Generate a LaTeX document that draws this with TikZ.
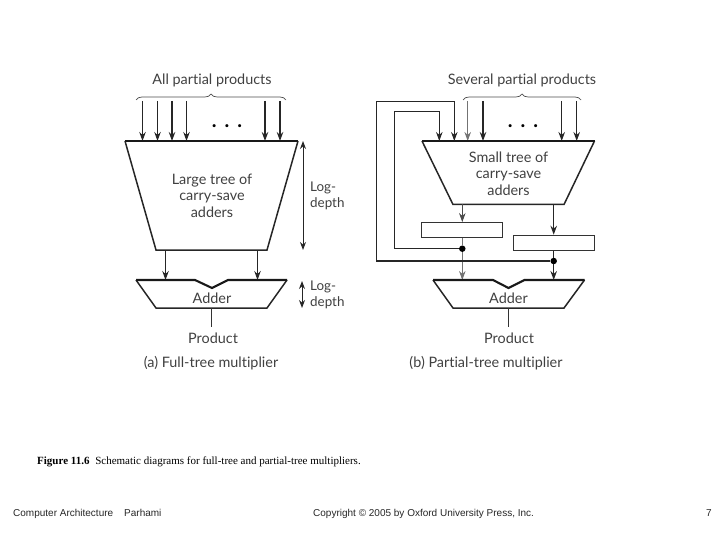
\documentclass[tikz,border=0pt]{standalone}
\usepackage{fontspec}
\setmainfont{Lato}[Ligatures=CommonOff]
\newfontfamily\capfont{Liberation Serif}
\newfontfamily\footfont{Liberation Sans}
\usetikzlibrary{arrows.meta,decorations.pathreplacing}
\tikzset{
  label text/.style={font=\fontsize{14.4}{16.5}\selectfont, text=black!75, inner sep=0pt, align=center},
  side text/.style={label text, font=\fontsize{13.4}{16}\selectfont, align=left, anchor=west},
  caption text/.style={font=\capfont\fontsize{11}{12}\selectfont, inner sep=0pt, anchor=base west},
  foot text/.style={font=\footfont\fontsize{10}{12}\selectfont, inner sep=0pt, anchor=base west, text=black!85},
  wire/.style={-{Stealth[length=9pt,width=6.5pt]}, line width=1.1pt, black!85},
  thin wire/.style={-{Stealth[length=9pt,width=6.5pt]}, line width=0.8pt, black!55},
  span/.style={{Stealth[length=8pt,width=6pt]}-{Stealth[length=8pt,width=6pt]}, line width=1pt, black!85},
  body/.style={line width=1.5pt, black!85},
  top edge/.style={line width=2.1pt, black!90},
  reg box/.style={draw=black!80, line width=0.9pt, minimum width=81pt, minimum height=15pt, inner sep=0pt},
  joint/.style={circle, fill=black, inner sep=0pt, minimum size=6.5pt},
  group brace/.style={decorate, decoration={brace, amplitude=6pt}, line width=0.7pt, black!70},
  dotdot/.style={font=\bfseries\fontsize{20}{20}\selectfont, inner sep=0pt}
}
\begin{document}
\begin{tikzpicture}[x=1pt, y=-1pt]
    \useasboundingbox (0,0) rectangle (720,540);

    % (a) Inputs
    \node[label text] (allpp) at (212,80) {All partial products};
    \coordinate (bracea1) at (136,100);
    \coordinate (bracea2) at (286,100);
    \draw[group brace] (bracea1) -- (bracea2);
    \foreach \x [count=\i] in {142.5,157.5,172,186.5,265,280} {
        \coordinate (ina\i) at (\x,101);
        \coordinate (tina\i) at (\x,141);
        \draw[wire] (ina\i) -- (tina\i);
    }
    \node[dotdot] (dotsa) at (227,126) {.\hspace{8pt}.\hspace{8pt}.};

    % (a) Large tree
    \draw[body] (125,141) -- (156,250) -- (267,250) -- (298,141);
    \draw[top edge] (125,141) -- (298,141);
    \node[label text] (largetree) at (212,195.5) {Large tree of\\carry-save\\adders};

    % (a) Depth marks
    \coordinate (deptha1) at (303,141);
    \coordinate (deptha2) at (303,250);
    \draw[span] (deptha1) -- (deptha2);
    \node[side text] (logdeptha) at (310,196) {Log-\\depth};
    \coordinate (depthb1) at (302,281);
    \coordinate (depthb2) at (302,308);
    \draw[span] (depthb1) -- (depthb2);
    \node[side text] (logdepthb) at (310,295) {Log-\\depth};

    % (a) Tree to adder
    \coordinate (outa1) at (165.5,250);
    \coordinate (adda1) at (165.5,280);
    \coordinate (outa2) at (257.5,250);
    \coordinate (adda2) at (257.5,280);
    \draw[wire] (outa1) -- (adda1);
    \draw[wire] (outa2) -- (adda2);

    % (a) Adder
    \draw[body] (136,280) -- (156,308) -- (267,308) -- (287,280);
    \draw[top edge] (136,280) -- (195,280) -- (212,288) -- (228,280) -- (287,280);
    \node[label text] (addera) at (212,298.5) {Adder};
    \coordinate (proda1) at (211,308);
    \coordinate (proda2) at (211,327);
    \draw[line width=0.9pt, black!80] (proda1) -- (proda2);
    \node[label text] (producta) at (213,338.5) {Product};
    \node[label text] (captiona) at (211,363) {(a) Full-tree multiplier};

    % (b) Inputs
    \node[label text] (severalpp) at (522,80) {Several partial products};
    \coordinate (braceb1) at (463,100);
    \coordinate (braceb2) at (581,100);
    \draw[group brace] (braceb1) -- (braceb2);
    \coordinate (inb1) at (467.7,101);
    \coordinate (tinb1) at (467.7,141);
    \draw[thin wire] (inb1) -- (tinb1);
    \foreach \x [count=\i from 2] in {483,561.7,576.7} {
        \coordinate (inb\i) at (\x,101);
        \coordinate (tinb\i) at (\x,141);
        \draw[wire] (inb\i) -- (tinb\i);
    }
    \node[dotdot] (dotsb) at (523,126) {.\hspace{8pt}.\hspace{8pt}.};

    % (b) Small tree
    \draw[body] (422,141) -- (453,204.5) -- (564,204.5) -- (594.5,141);
    \draw[top edge] (422,141) -- (594.5,141);
    \node[label text] (smalltree) at (508.5,173.5) {Small tree of\\carry-save\\adders};

    % (b) Registers
    \node[reg box] (regone) at (462.2,230) {};
    \node[reg box] (regtwo) at (553.7,242.7) {};
    \coordinate (outb1) at (462.3,204.5);
    \coordinate (outb2) at (553.7,204.5);
    \draw[thin wire, black!70] (outb1) -- (regone.north -| outb1);
    \draw[wire, line width=1.4pt] (outb2) -- (regtwo.north -| outb2);

    % (b) Registers to adder
    \node[joint] (jointone) at (462.3,248.7) {};
    \node[joint] (jointtwo) at (553.7,261) {};
    \coordinate (addb1) at (462.3,280);
    \coordinate (addb2) at (553.7,280);
    \draw[line width=0.8pt, black!55] (regone.south -| jointone) -- (jointone);
    \draw[thin wire] (jointone) -- (addb1);
    \draw[line width=1.4pt, black!85] (regtwo.south -| jointtwo) -- (jointtwo);
    \draw[wire, line width=1.4pt] (jointtwo) -- (addb2);

    % (b) Feedback
    \coordinate (fbone) at (394.7,248.7);
    \coordinate (fboneup) at (394.7,111.7);
    \coordinate (tfbone) at (439.3,141);
    \draw[wire] (jointone) -- (fbone) -- (fboneup) -| (tfbone);
    \coordinate (fbtwo) at (376.7,261);
    \coordinate (fbtwoup) at (376.7,101.3);
    \coordinate (tfbtwo) at (454.3,141);
    \draw[wire] (jointtwo) -- (fbtwo) -- (fbtwoup) -| (tfbtwo);

    % (b) Adder
    \draw[body] (433,280) -- (453,308) -- (564,308) -- (584.5,280);
    \draw[top edge] (433,280) -- (493,280) -- (508.5,288) -- (524.5,280) -- (584.5,280);
    \node[label text] (adderb) at (508.5,298.5) {Adder};
    \coordinate (prodb1) at (508.3,308);
    \coordinate (prodb2) at (508.3,327);
    \draw[line width=0.9pt, black!80] (prodb1) -- (prodb2);
    \node[label text] (productb) at (509,338.5) {Product};
    \node[label text] (captionb) at (486,363) {(b) Partial-tree multiplier};

    % Caption and footer
    \node[caption text] (figcap) at (37,464.5) {\textbf{Figure 11.6}\hspace{3pt} Schematic diagrams for full-tree and partial-tree multipliers.};
    \node[foot text] (footbook) at (13,516.5) {Computer Architecture};
    \node[foot text] (footauthor) at (124,516.5) {Parhami};
    \node[foot text] (footcopy) at (313,516.5) {Copyright © 2005 by Oxford University Press, Inc.};
    \node[foot text] (footpage) at (706,516.5) {7};
\end{tikzpicture}
\end{document}
